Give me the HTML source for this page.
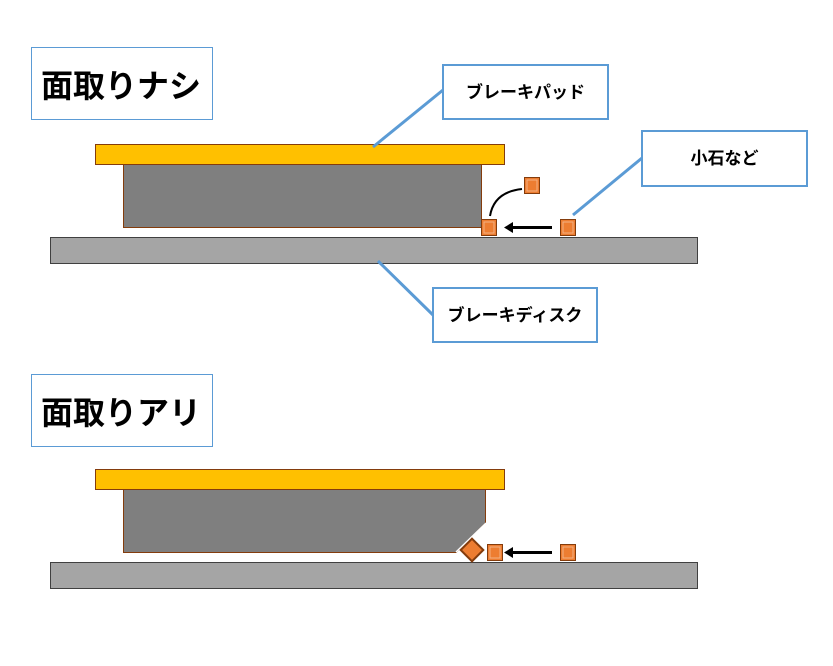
<!DOCTYPE html>
<html><head><meta charset="utf-8"><style>
body{margin:0;background:#fff;}
svg text{font-family:"Liberation Sans","Noto Sans CJK JP",sans-serif;font-weight:bold;fill:#000;}
</style></head><body>
<svg width="833" height="661" viewBox="0 0 833 661" xmlns="http://www.w3.org/2000/svg">
<defs>
<g id="bx"><rect x="0.5" y="0.5" width="15" height="16" fill="#ED7D31" stroke="#843C0C" stroke-width="1"/><rect x="3" y="3" width="10" height="11" fill="none" stroke="#F4B183" stroke-width="1"/></g>
</defs>
<!-- top title -->
<rect x="31.5" y="47.5" width="181" height="72" fill="#fff" stroke="#5B9BD5" stroke-width="1"/>
<text x="41" y="97" font-size="32">面取りナシ</text>
<!-- upper diagram -->
<rect x="50.5" y="237.5" width="647" height="26" fill="#A5A5A5" stroke="#404040" stroke-width="1"/>
<rect x="123.5" y="164.5" width="358" height="63" fill="#7F7F7F" stroke="#843C0C" stroke-width="1"/>
<rect x="95.5" y="144.5" width="409" height="20" fill="#FFC000" stroke="#843C0C" stroke-width="1"/>
<use href="#bx" x="481" y="219"/>
<use href="#bx" x="560" y="219"/>
<use href="#bx" x="524" y="177"/>
<path d="M490 216 Q494 192 522 189" fill="none" stroke="#000" stroke-width="2"/>
<line x1="552" y1="227.5" x2="512" y2="227.5" stroke="#000" stroke-width="3"/>
<polygon points="504,227.5 513,222 513,233" fill="#000"/>
<!-- callouts -->
<line x1="443" y1="90" x2="373" y2="147" stroke="#5B9BD5" stroke-width="3"/>
<rect x="443" y="65" width="165" height="54" fill="#fff" stroke="#5B9BD5" stroke-width="2"/>
<text x="525.5" y="98" font-size="17" text-anchor="middle">ブレーキパッド</text>
<line x1="642" y1="158" x2="573" y2="215" stroke="#5B9BD5" stroke-width="3"/>
<rect x="642" y="131" width="165" height="55" fill="#fff" stroke="#5B9BD5" stroke-width="2"/>
<text x="724.5" y="164" font-size="17" text-anchor="middle">小石など</text>
<line x1="433" y1="315" x2="378" y2="261" stroke="#5B9BD5" stroke-width="3"/>
<rect x="433" y="288" width="164" height="54" fill="#fff" stroke="#5B9BD5" stroke-width="2"/>
<text x="515" y="321" font-size="17" text-anchor="middle">ブレーキディスク</text>
<!-- bottom title -->
<rect x="31.5" y="374.5" width="181" height="72" fill="#fff" stroke="#5B9BD5" stroke-width="1"/>
<text x="41" y="424" font-size="32">面取りアリ</text>
<!-- lower diagram -->
<rect x="50.5" y="562.5" width="647" height="26" fill="#A5A5A5" stroke="#404040" stroke-width="1"/>
<polygon points="123.5,489.5 485.5,489.5 485.5,523 456,552.5 123.5,552.5" fill="#7F7F7F" stroke="#843C0C" stroke-width="1"/>
<line x1="486" y1="523" x2="456" y2="552" stroke="#fff" stroke-width="1.5"/>
<rect x="95.5" y="469.5" width="409" height="20" fill="#FFC000" stroke="#843C0C" stroke-width="1"/>
<g transform="translate(472,550) rotate(45)"><rect x="-8" y="-8" width="16" height="16" fill="#ED7D31" stroke="#843C0C" stroke-width="2"/></g>
<use href="#bx" x="487" y="544"/>
<use href="#bx" x="560" y="544"/>
<line x1="552" y1="552.5" x2="512" y2="552.5" stroke="#000" stroke-width="3"/>
<polygon points="504,552.5 513,547 513,558" fill="#000"/>
</svg>
</body></html>
